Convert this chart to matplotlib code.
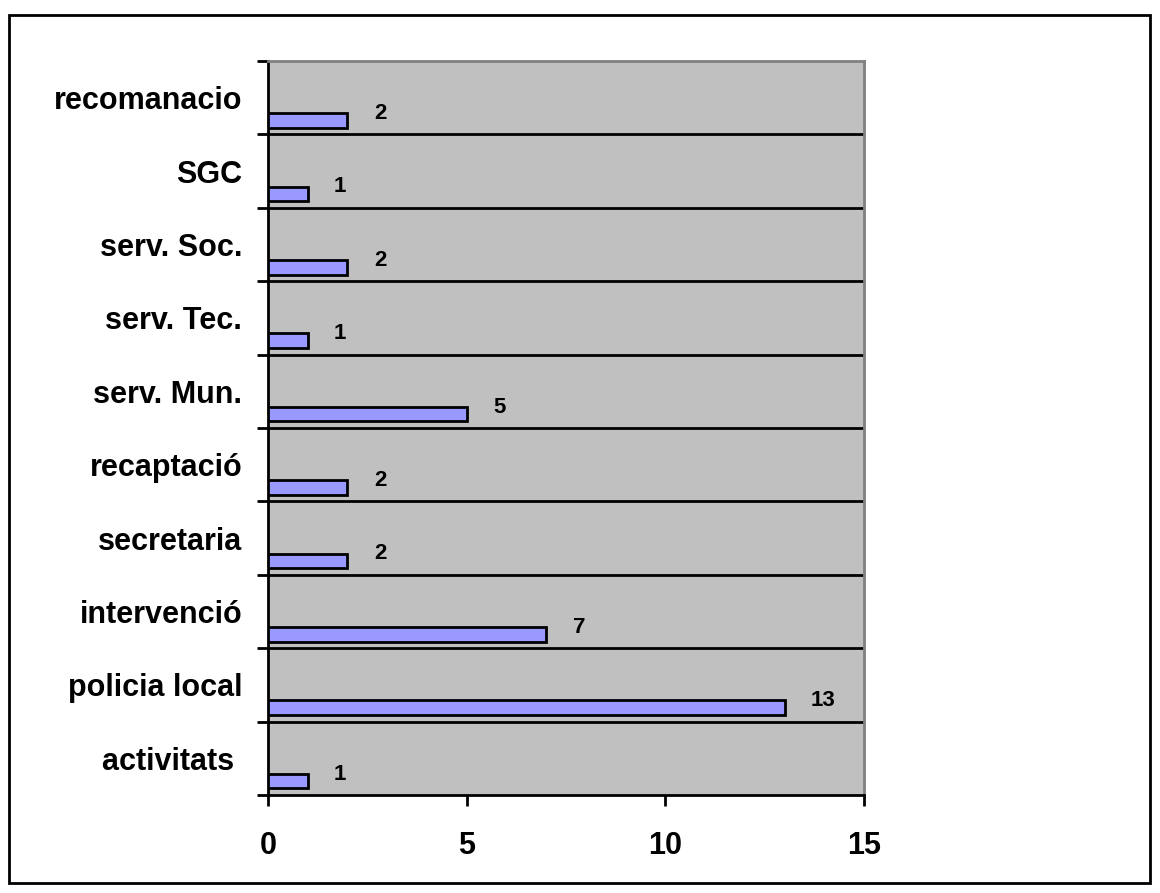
import matplotlib.pyplot as plt
from matplotlib.patches import Rectangle

plt.rcParams['font.family'] = ['Liberation Sans', 'DejaVu Sans']

# dades (de baix a dalt)
categories = ['activitats ', 'policia local', 'intervenció', 'secretaria', 'recaptació',
              'serv. Mun.', 'serv. Tec.', 'serv. Soc.', 'SGC', 'recomanacio']
values = [1, 13, 7, 2, 2, 5, 1, 2, 1, 2]
xticks = [0, 5, 10, 15]

fig = plt.figure(figsize=(11.6, 8.93), dpi=100)
ax = fig.add_axes([268 / 1160, 1 - 795 / 893, (864 - 268) / 1160, (795 - 61) / 893])

# marc exterior
fig.patches.append(Rectangle((9 / 1160, 1 - 883 / 893), (1150 - 9) / 1160, (883 - 15) / 893,
                             transform=fig.transFigure, fill=False, edgecolor='black', linewidth=2))

ax.set_facecolor('#C0C0C0')
pos = list(range(len(categories)))
bar_pos = [p - 0.31 for p in pos]
ax.barh(bar_pos, values, height=0.2, color='#9999FF', edgecolor='black', linewidth=2, zorder=3)

# línies de separació
for p in pos[:-1]:
    ax.axhline(p + 0.5, color='black', linewidth=2, zorder=2)

# etiquetes de valor
for y, v in zip(bar_pos, values):
    ax.annotate(str(v), (v, y), xytext=(19, 5), textcoords='offset points',
                ha='left', va='center', fontsize=16, fontweight='bold')

ax.set_xlim(0, 15)
ax.set_ylim(-0.5, len(categories) - 0.5)
ax.set_xticks(xticks)
ax.set_xticklabels([str(t) for t in xticks], fontsize=22, fontweight='bold')
ax.set_yticks([p + 0.5 for p in pos[:-1]] + [-0.5, len(categories) - 0.5])
ax.set_yticklabels([])
ax.set_yticks(pos, minor=True)
ax.set_yticklabels(categories, minor=True, fontsize=22, fontweight='bold')
ax.tick_params(axis='y', which='major', length=8, width=2, direction='out')
ax.tick_params(axis='y', which='minor', length=0, pad=18.5)
ax.tick_params(axis='x', length=8, width=2, direction='out', pad=18)

for s in ['left', 'bottom']:
    ax.spines[s].set_linewidth(2)
    ax.spines[s].set_color('black')
for s in ['top', 'right']:
    ax.spines[s].set_linewidth(2)
    ax.spines[s].set_color('#808080')

fig.savefig('out.png', dpi=100)
